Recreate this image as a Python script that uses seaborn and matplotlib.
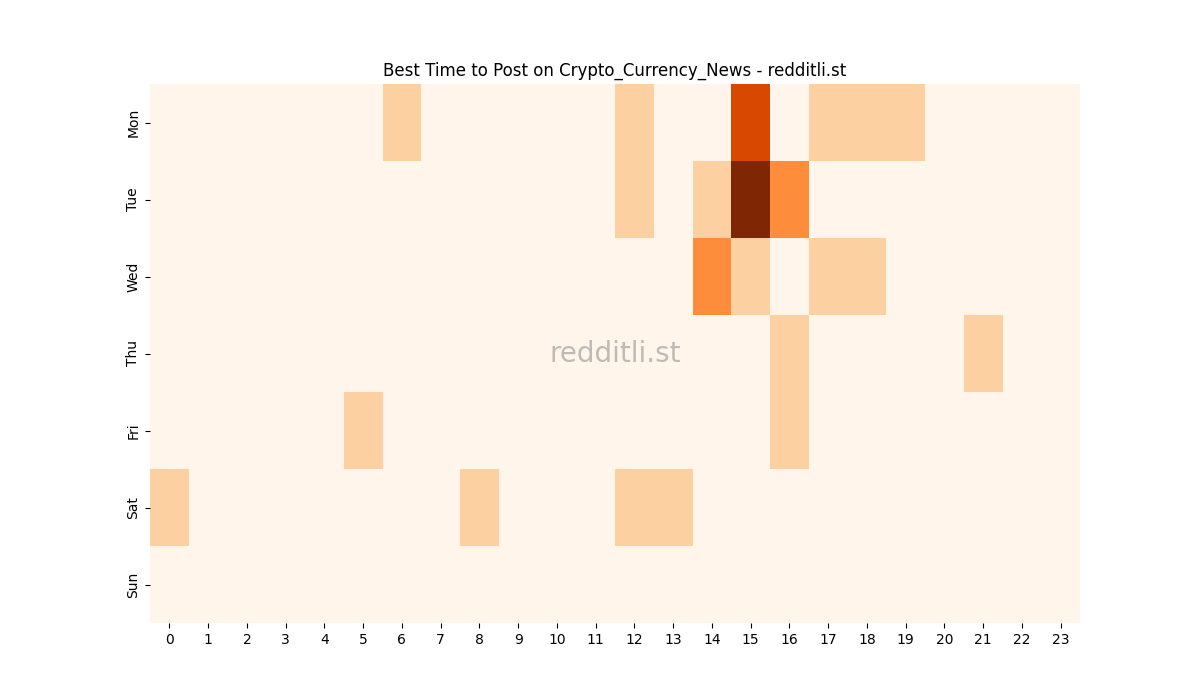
import numpy as np
import pandas as pd
import seaborn as sns
import matplotlib
matplotlib.use("Agg")
import matplotlib.pyplot as plt

days = ["Mon", "Tue", "Wed", "Thu", "Fri", "Sat", "Sun"]
hours = list(range(24))

# post counts per (day, hour)
mon = {6: 1, 12: 1, 15: 3, 17: 1, 18: 1, 19: 1}
tue = {12: 1, 14: 1, 15: 4, 16: 2}
wed = {14: 2, 15: 1, 17: 1, 18: 1}
thu = {16: 1, 21: 1}
fri = {5: 1, 16: 1}
sat = {0: 1, 8: 1, 12: 1, 13: 1}
sun = {}

rows = [mon, tue, wed, thu, fri, sat, sun]
df = pd.DataFrame([[r.get(h, 0) for h in hours] for r in rows], index=days, columns=hours)

fig, ax = plt.subplots(figsize=(12, 7), dpi=100)
sns.heatmap(df, cmap="Oranges", cbar=False, ax=ax)
ax.set_title("Best Time to Post on Crypto_Currency_News - redditli.st")
ax.text(0.5, 0.5, "redditli.st", transform=ax.transAxes, ha="center", va="center",
        fontsize=20, color="gray", alpha=0.5)
ax.set_xlabel("")
ax.set_ylabel("")
plt.savefig("out.png")
